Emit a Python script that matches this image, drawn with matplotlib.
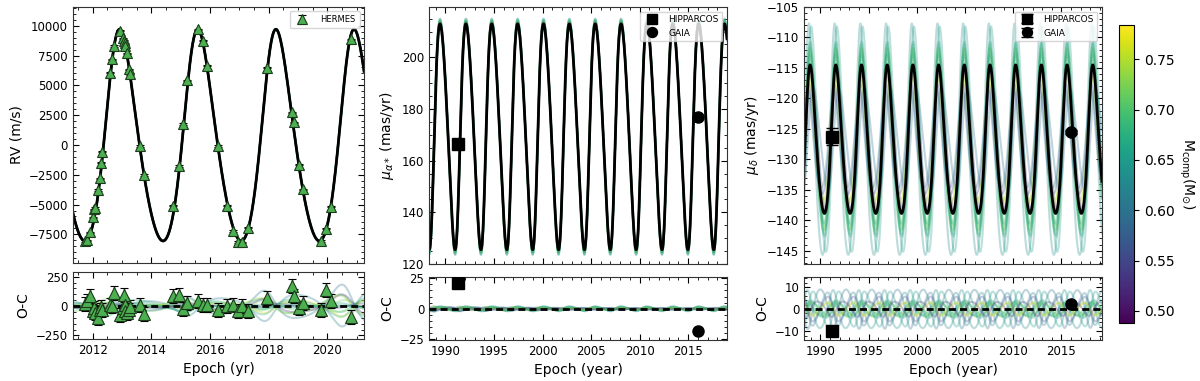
import matplotlib
matplotlib.use('Agg')
import matplotlib.pyplot as plt
import numpy as np
from matplotlib.ticker import AutoMinorLocator, MultipleLocator
from matplotlib import colors

# HERMES radial velocities (epoch, RV, O-C), m/s
rv_epoch = [2011.74, 2011.80, 2011.91, 2012.02, 2012.06, 2012.08, 2012.17, 2012.24, 2012.28,
            2012.33, 2012.60, 2012.66, 2012.72, 2012.92, 2013.04, 2013.07, 2013.10, 2013.12,
            2013.18, 2013.25, 2013.28, 2013.60, 2013.75, 2014.75, 2014.93, 2015.09, 2015.23,
            2015.59, 2015.75, 2015.90, 2016.26, 2016.59, 2016.80, 2016.945, 2017.08, 2017.31,
            2017.95, 2018.80, 2018.86, 2019.03, 2019.18, 2019.795, 2019.955, 2020.11, 2020.81]
rv_value = [-8040, -7990, -7330, -6075, -5403, -5300, -3784, -2802, -1493,
            -570, 6057, 7181, 8297, 9580, 8940, 8740, 8520, 8300,
            7685, 6342, 5948, -100, -2525, -5101, -1770, 1753, 5419,
            9698, 8742, 6644, -100, -5101, -7223, -8121, -8171, -6946,
            6477, 2735, 1896, -1661, -3725, -8062, -7030, -5185, 8859]
rv_resid = [20, 40, 83, -45, -17, -60, -102, -31, -10,
            -31, 11, 5, 111, -74, -17, 91, 11, -45,
            -60, -31, -10, 11, -68, 85, 97, -23, 26,
            45, 11, 11, -35, -3, 11, -45, -3, -40,
            68, 168, 83, -17, 26, -31, 139, 40, -96]
rv_err = 60

# Hipparcos / Gaia proper motions (mas/yr)
astro_epoch = [1991.25, 2016.0]
pmra_obs = [166.4, 177.0]
pmra_resid = [21.0, -18.0]
pmdec_obs = [-126.3, -125.5]
pmdec_err = [1.4, 0.3]
pmdec_resid = [-10.1, 2.4]

# best-fit orbit
period = 2.665
t_peri = 2015.365
ecc = 0.141
rv_amp, rv_mid, rv_phase = 8875, 825, -38.7
pmra_amp, pmra_mid, pmra_phase = 43.75, 169.25, -112.7
pmdec_amp, pmdec_mid, pmdec_phase = 12.2, -126.7, -38.7

# posterior draws
draw_mass = [0.70, 0.69, 0.71, 0.68, 0.72, 0.61, 0.60, 0.63, 0.77, 0.52, 0.65, 0.66, 0.74, 0.56]
draw_period = [2.6655, 2.6635, 2.6660, 2.6638, 2.6652, 2.6668, 2.6630, 2.6650, 2.6662, 2.6636,
               2.6645, 2.6658, 2.6642, 2.6653]
draw_tperi = [2015.366, 2015.364, 2015.365, 2015.367, 2015.363, 2015.368, 2015.362, 2015.365,
              2015.366, 2015.364, 2015.365, 2015.367, 2015.363, 2015.365]
draw_rv_amp = [8890, 8860, 8880, 8870, 8900, 8850, 8895, 8875, 8865, 8885, 8872, 8878, 8860, 8890]
draw_pmra_amp = [44.8, 44.5, 45.0, 44.2, 45.2, 43.5, 43.2, 45.5, 44.0, 43.8, 45.8, 44.6, 44.3, 43.0]
draw_pmdec_amp = [15.0, 14.2, 15.6, 13.8, 14.8, 8.0, 8.5, 19.0, 10.5, 11.8, 18.5, 16.0, 10.0, 9.0]
draw_pmdec_phase = [6, -6, 4, 10, -8, 35, -45, 20, 12, -15, -18, -5, 8, 25]

mass_min, mass_max = 0.488, 0.784


def orbit_curve(t, P, tp, amp, mid, phase_deg):
    M = 2 * np.pi * (t - tp) / P
    E = M.copy()
    for _ in range(30):
        E = E - (E - ecc * np.sin(E) - M) / (1 - ecc * np.cos(E))
    nu = 2 * np.arctan2(np.sqrt(1 + ecc) * np.sin(E / 2), np.sqrt(1 - ecc) * np.cos(E / 2))
    return amp * np.cos(nu + np.radians(phase_deg)) + mid


def style_axes(ax):
    ax.tick_params(which='both', direction='in', top=True, right=True, labelsize=8.5)
    ax.tick_params(which='major', length=4)
    ax.tick_params(which='minor', length=2)
    ax.xaxis.set_minor_locator(AutoMinorLocator())
    ax.yaxis.set_minor_locator(AutoMinorLocator())
    for s in ax.spines.values():
        s.set_color('#333333')


norm = colors.Normalize(vmin=mass_min, vmax=mass_max)
cmap = plt.get_cmap('viridis')

fig = plt.figure(figsize=(12, 3.81), dpi=100)
ax_rv = fig.add_axes([0.0608, 0.3097, 0.2425, 0.672])
ax_rvr = fig.add_axes([0.0608, 0.1102, 0.2425, 0.1759])
ax_ra = fig.add_axes([0.3575, 0.3071, 0.2483, 0.6745])
ax_rar = fig.add_axes([0.3575, 0.1076, 0.2483, 0.1654])
ax_de = fig.add_axes([0.670, 0.3071, 0.2483, 0.6745])
ax_der = fig.add_axes([0.670, 0.1076, 0.2483, 0.1654])
cax = fig.add_axes([0.9325, 0.1522, 0.0125, 0.782])

t_rv = np.linspace(2011.0, 2021.6, 1500)
t_pm = np.linspace(1988.0, 2019.5, 4000)

rv_best = orbit_curve(t_rv, period, t_peri, rv_amp, rv_mid, rv_phase)
ra_best = orbit_curve(t_pm, period, t_peri, pmra_amp, pmra_mid, pmra_phase)
de_best = orbit_curve(t_pm, period, t_peri, pmdec_amp, pmdec_mid, pmdec_phase)

for i in range(len(draw_mass)):
    c = cmap(norm(draw_mass[i]))
    rv_d = orbit_curve(t_rv, draw_period[i], draw_tperi[i], draw_rv_amp[i], rv_mid, rv_phase)
    ra_d = orbit_curve(t_pm, draw_period[i], draw_tperi[i], draw_pmra_amp[i], pmra_mid, pmra_phase)
    de_d = orbit_curve(t_pm, draw_period[i], draw_tperi[i], draw_pmdec_amp[i], pmdec_mid,
                       pmdec_phase + draw_pmdec_phase[i])
    ax_rv.plot(t_rv, rv_d, color=c, alpha=0.3, lw=1.5)
    ax_rvr.plot(t_rv, rv_d - rv_best, color=c, alpha=0.3, lw=1.5)
    ax_ra.plot(t_pm, ra_d, color=c, alpha=0.3, lw=1.5)
    ax_rar.plot(t_pm, ra_d - ra_best, color=c, alpha=0.3, lw=1.5)
    ax_de.plot(t_pm, de_d, color=c, alpha=0.3, lw=1.5)
    ax_der.plot(t_pm, de_d - de_best, color=c, alpha=0.3, lw=1.5)

# RV panel
ax_rv.plot(t_rv, rv_best, color='k', lw=2)
ax_rv.errorbar(rv_epoch, rv_value, yerr=rv_err, fmt='^', color='k', mfc='#4caf50', mec='#1b3d1b',
               mew=0.8, ms=7, capsize=3, elinewidth=1, label='HERMES', zorder=5)
ax_rv.legend(loc='upper right', fontsize=6, handletextpad=1.2, borderpad=0.5)
ax_rv.set_xlim(2011.33, 2021.25)
ax_rv.set_ylim(-9900, 11570)
ax_rv.yaxis.set_major_locator(MultipleLocator(2500))
ax_rv.xaxis.set_major_locator(MultipleLocator(2))
ax_rv.set_xticklabels([])
ax_rv.set_ylabel('RV (m/s)', fontsize=10)

ax_rvr.axhline(0, color='k', lw=2, ls=(0, (2.5, 1.5)), zorder=4)
ax_rvr.errorbar(rv_epoch, rv_resid, yerr=rv_err, fmt='^', color='k', mfc='#4caf50', mec='#1b3d1b',
                mew=0.8, ms=8, capsize=3, elinewidth=1, zorder=5)
ax_rvr.set_xlim(2011.33, 2021.25)
ax_rvr.set_ylim(-280, 290)
ax_rvr.yaxis.set_major_locator(MultipleLocator(250))
ax_rvr.xaxis.set_major_locator(MultipleLocator(2))
ax_rvr.set_ylabel('O-C', fontsize=10)
ax_rvr.set_xlabel('Epoch (yr)', fontsize=10)

# proper motion in RA
ax_ra.plot(t_pm, ra_best, color='k', lw=2)
ax_ra.plot(astro_epoch[0], pmra_obs[0], 's', color='k', ms=8, label='HIPPARCOS', zorder=5)
ax_ra.plot(astro_epoch[1], pmra_obs[1], 'o', color='k', ms=8, label='GAIA', zorder=5)
ax_ra.legend(loc='upper right', fontsize=6.5, borderpad=0.4, markerscale=0.9)
ax_ra.set_xlim(1988.3, 2019.0)
ax_ra.set_ylim(120, 219.5)
ax_ra.yaxis.set_major_locator(MultipleLocator(20))
ax_ra.xaxis.set_major_locator(MultipleLocator(5))
ax_ra.set_xticklabels([])
ax_ra.set_ylabel(r'$\mu_{\alpha*}$ (mas/yr)', fontsize=10)

ax_rar.axhline(0, color='k', lw=2, ls=(0, (2.5, 1.5)), zorder=4)
ax_rar.plot(astro_epoch[0], pmra_resid[0], 's', color='k', ms=8, zorder=5)
ax_rar.plot(astro_epoch[1], pmra_resid[1], 'o', color='k', ms=8, zorder=5)
ax_rar.set_xlim(1988.3, 2019.0)
ax_rar.set_ylim(-25.5, 26)
ax_rar.yaxis.set_major_locator(MultipleLocator(25))
ax_rar.xaxis.set_major_locator(MultipleLocator(5))
ax_rar.set_ylabel('O-C', fontsize=10)
ax_rar.set_xlabel('Epoch (year)', fontsize=10)

# proper motion in Dec
ax_de.plot(t_pm, de_best, color='k', lw=2)
ax_de.errorbar(astro_epoch[0], pmdec_obs[0], yerr=pmdec_err[0], fmt='s', color='k', ms=8,
               capsize=4, label='HIPPARCOS', zorder=5)
ax_de.errorbar(astro_epoch[1], pmdec_obs[1], yerr=pmdec_err[1], fmt='o', color='k', ms=8,
               capsize=4, label='GAIA', zorder=5)
ax_de.legend(loc='upper right', fontsize=6.5, borderpad=0.4, markerscale=0.9)
ax_de.set_xlim(1988.3, 2019.2)
ax_de.set_ylim(-147.2, -105)
ax_de.yaxis.set_major_locator(MultipleLocator(5))
ax_de.xaxis.set_major_locator(MultipleLocator(5))
ax_de.set_xticklabels([])
ax_de.set_ylabel(r'$\mu_{\delta}$ (mas/yr)', fontsize=10)

ax_der.axhline(0, color='k', lw=2, ls=(0, (2.5, 1.5)), zorder=4)
ax_der.plot(astro_epoch[0], pmdec_resid[0], 's', color='k', ms=8, zorder=5)
ax_der.plot(astro_epoch[1], pmdec_resid[1], 'o', color='k', ms=8, zorder=5)
ax_der.set_xlim(1988.3, 2019.2)
ax_der.set_ylim(-14, 14.5)
ax_der.yaxis.set_major_locator(MultipleLocator(10))
ax_der.xaxis.set_major_locator(MultipleLocator(5))
ax_der.set_ylabel('O-C', fontsize=10)
ax_der.set_xlabel('Epoch (year)', fontsize=10)

for ax in [ax_rv, ax_rvr, ax_ra, ax_rar, ax_de, ax_der]:
    style_axes(ax)

sm = plt.cm.ScalarMappable(norm=norm, cmap=cmap)
cb = fig.colorbar(sm, cax=cax)
cb.set_ticks([0.50, 0.55, 0.60, 0.65, 0.70, 0.75])
cb.ax.tick_params(labelsize=10)
cb.set_label(r'M$_{\rm comp}$(M$_{\odot}$)', fontsize=10, rotation=270, labelpad=16)

fig.savefig('out.png', dpi=100)
